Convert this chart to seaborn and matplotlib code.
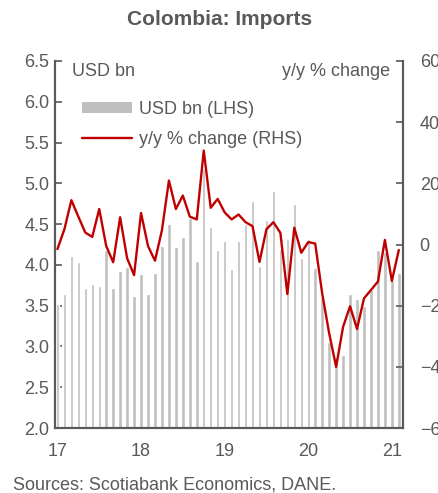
import matplotlib

matplotlib.use("Agg")
import matplotlib.pyplot as plt
import pandas
import seaborn as sns
from matplotlib.lines import Line2D
from matplotlib.patches import Patch
from pandas import DataFrame

# Monthly data, Jan 2017 - Feb 2021
months = pandas.date_range("2017-01-01", periods=50, freq="MS")

imports_usd_bn = [
    3.52, 3.64, 4.11, 4.03, 3.72, 3.77, 3.74, 4.18, 3.72, 3.93, 3.98, 3.62,
    3.89, 3.64, 3.90, 4.23, 4.50, 4.22, 4.34, 4.57, 4.05, 5.18, 4.47, 4.18,
    4.29, 3.95, 4.29, 4.50, 4.78, 3.99, 4.55, 4.91, 4.19, 4.32, 4.75, 4.08,
    4.32, 3.96, 3.60, 3.05, 2.87, 2.89, 3.64, 3.58, 3.49, 3.69, 4.18, 4.16,
    3.81, 3.90,
]

yoy_change = [
    -1.5, 5.0, 14.5, 9.1, 3.9, 2.5, 11.6, -0.5, -5.8, 8.9, -4.5, -10.0,
    10.3, -0.5, -5.3, 4.7, 20.9, 11.6, 16.0, 9.1, 8.2, 30.7, 12.0, 14.9,
    10.5, 8.2, 9.8, 7.3, 6.0, -5.7, 5.0, 7.3, 3.8, -16.2, 5.5, -2.7,
    0.8, 0.3, -16.0, -29.0, -40.0, -26.9, -20.2, -27.6, -17.6, -14.9, -12.1, 1.5,
    -11.9, -1.8,
]

year_labels = ["17", "18", "19", "20", "21"]
left_ticks = [2.0, 2.5, 3.0, 3.5, 4.0, 4.5, 5.0, 5.5, 6.0, 6.5]
right_ticks = [-60, -40, -20, 0, 20, 40, 60]

GREY_TEXT = "#595959"
BAR_COLOR = "#bfbfbf"
LINE_COLOR = "#c00000"

df = DataFrame(
    data={
        "idx": range(len(months)),
        "month": months,
        "usd": imports_usd_bn,
        "yoy": yoy_change,
    }
)

sns.set_style("white")
plt.rcParams["font.family"] = ["Liberation Sans", "DejaVu Sans"]

fig = plt.figure(figsize=(4.39, 4.93), dpi=100)
ax = fig.add_axes([0.1253, 0.1318, 0.7927, 0.7445])

# Bars on the left axis
sns.barplot(data=df, x="idx", y="usd", color=BAR_COLOR, width=0.5,
            saturation=1, ax=ax)
ax.set_ylim(2.0, 6.5)
ax.set_yticks(left_ticks)
ax.set_yticklabels([f"{t:.1f}" for t in left_ticks])
ax.set_xlim(-0.35, 49.6)

# Year labels on January bars
jan_positions = [i for i, m in enumerate(months) if m.month == 1]
ax.set_xticks(jan_positions)
ax.set_xticklabels(year_labels)
ax.set_xlabel("")
ax.set_ylabel("")

# Line on the right axis
ax2 = ax.twinx()
sns.lineplot(data=df, x="idx", y="yoy", color=LINE_COLOR, linewidth=1.7,
             ax=ax2)
ax2.set_ylim(-60, 60)
ax2.set_yticks(right_ticks)
ax2.set_xlim(-0.35, 49.6)
ax2.set_ylabel("")
ax2.set_xlabel("")

for a in (ax, ax2):
    a.spines["top"].set_visible(False)
    for side in ("left", "right", "bottom"):
        a.spines[side].set_color(GREY_TEXT)
        a.spines[side].set_linewidth(1.5)
    a.tick_params(colors=GREY_TEXT, labelsize=13, length=5, width=1.2,
                  direction="in")
ax.tick_params(axis="x", length=0, pad=11)
ax.tick_params(axis="y", pad=4)
ax2.tick_params(axis="y", pad=12)

ax.text(0.049, 0.97, "USD bn", transform=ax.transAxes, ha="left", va="center",
        fontsize=13, color=GREY_TEXT)
ax2.text(0.963, 0.97, "y/y % change", transform=ax2.transAxes, ha="right",
         va="center", fontsize=13, color=GREY_TEXT)

handles = [
    Patch(facecolor=BAR_COLOR, edgecolor="none"),
    Line2D([], [], color=LINE_COLOR, linewidth=1.7),
]
leg = ax2.legend(handles, ["USD bn (LHS)", "y/y % change (RHS)"],
                 loc="upper left", bbox_to_anchor=(0.03, 0.935), frameon=False,
                 fontsize=13, handlelength=2.8, handleheight=0.6,
                 handletextpad=0.4, labelspacing=0.7)
for t in leg.get_texts():
    t.set_color(GREY_TEXT)

fig.suptitle("Colombia: Imports", x=0.5, y=0.96, va="center", fontsize=15,
             fontweight="bold", color=GREY_TEXT)
fig.text(0.03, 0.016, "Sources: Scotiabank Economics, DANE.", fontsize=13,
         color=GREY_TEXT, ha="left", va="center")

plt.savefig("out.png", dpi=100)
plt.close()
